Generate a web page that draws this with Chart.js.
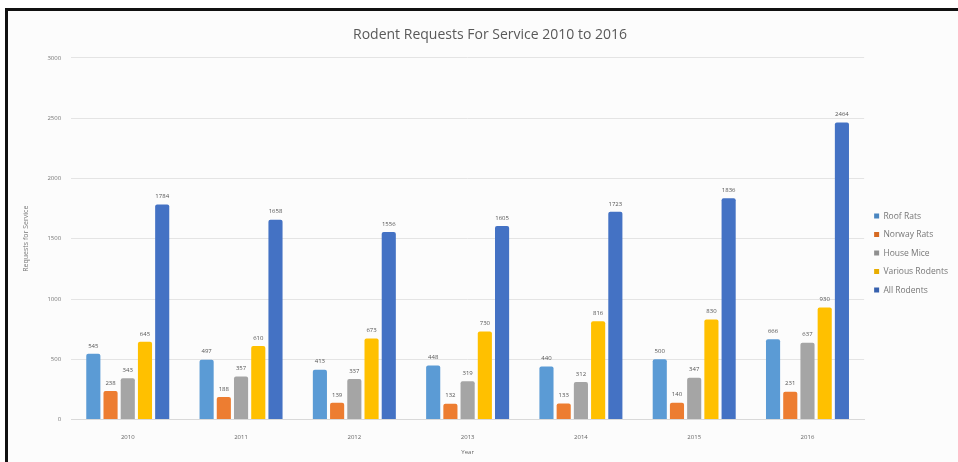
<!DOCTYPE html>
<html>
<head>
<meta charset="utf-8">
<script src="https://cdn.jsdelivr.net/npm/chart.js@4.4.1/dist/chart.umd.min.js"></script>
<style>
  html, body { margin: 0; padding: 0; background: #fff; }
  #frame {
    position: absolute; left: 5px; top: 8px;
    width: 953px; height: 454px;
    border-top: 3px solid #111; border-left: 3px solid #111;
    box-sizing: border-box; background: #fcfcfc;
  }
  #chartBox { position: absolute; left: 0; top: 0; width: 950px; height: 451px; }
</style>
</head>
<body>
<div id="frame">
  <div id="chartBox"><canvas id="rodentChart"></canvas></div>
</div>
<script>
// Requests per year, by rodent category
const years = ["2010", "2011", "2012", "2013", "2014", "2015", "2016"];
const roofRats = [545, 497, 413, 448, 440, 500, 666];
const norwayRats = [238, 188, 139, 132, 133, 140, 231];
const houseMice = [343, 357, 337, 319, 312, 347, 637];
const variousRodents = [645, 610, 673, 730, 816, 830, 930];
const allRodents = [1784, 1658, 1556, 1605, 1723, 1836, 2464];
const yTicks = [0, 500, 1000, 1500, 2000, 2500, 3000];

const FONT = "'Open Sans', sans-serif";

// cylinder-ish shading: darker edges, lighter middle
function shade(base, light, dark) {
  return (ctx) => {
    const el = ctx.element;
    if (!el || el.width == null || !isFinite(el.x)) return base;
    const c = ctx.chart.ctx;
    const x0 = el.x - el.width / 2, x1 = el.x + el.width / 2;
    const g = c.createLinearGradient(x0, 0, x1, 0);
    g.addColorStop(0, dark);
    g.addColorStop(0.45, light);
    g.addColorStop(1, dark);
    return g;
  };
}

const series = [
  { label: "Roof Rats", data: roofRats, color: "#5B9BD5", light: "#74b0e6", dark: "#4a86c0" },
  { label: "Norway Rats", data: norwayRats, color: "#ED7D31", light: "#f79450", dark: "#d66a22" },
  { label: "House Mice", data: houseMice, color: "#A5A5A5", light: "#bcbcbc", dark: "#8f8f8f" },
  { label: "Various Rodents", data: variousRodents, color: "#FFC000", light: "#ffd232", dark: "#e8ad00" },
  { label: "All Rodents", data: allRodents, color: "#4472C4", light: "#5a88d8", dark: "#3761ae" },
];

// value labels above each bar
const valueLabels = {
  id: "valueLabels",
  afterDatasetsDraw(chart) {
    const c = chart.ctx;
    c.save();
    c.font = "6px " + FONT;
    c.fillStyle = "#555";
    c.textAlign = "center";
    c.textBaseline = "bottom";
    chart.data.datasets.forEach((ds, i) => {
      chart.getDatasetMeta(i).data.forEach((bar, j) => {
        c.fillText(ds.data[j], bar.x, bar.y - 5);
      });
    });
    c.restore();
  },
};

new Chart(document.getElementById("rodentChart"), {
  type: "bar",
  data: {
    labels: years,
    datasets: series.map((s) => ({
      label: s.label,
      data: s.data,
      backgroundColor: shade(s.color, s.light, s.dark),
      borderWidth: 0,
      borderRadius: 2,
      categoryPercentage: 0.76,
      barPercentage: 0.82,
    })),
  },
  options: {
    responsive: true,
    maintainAspectRatio: false,
    animation: false,
    layout: { padding: { left: 14, right: 0, top: 10, bottom: 6 } },
    plugins: {
      title: {
        display: true,
        text: "Rodent Requests For Service 2010 to 2016",
        color: "#595959",
        font: { family: FONT, size: 14, weight: "normal" },
        padding: { top: 6, bottom: 14 },
      },
      legend: {
        position: "right",
        title: { display: true, text: " ", font: { size: 6 }, padding: 11 },
        labels: {
          boxWidth: 5,
          boxHeight: 5,
          padding: 10,
          color: "#777",
          font: { family: FONT, size: 8.5 },
        },
      },
      tooltip: { enabled: false },
    },
    scales: {
      x: {
        grid: { display: false },
        border: { color: "#d9d9d9" },
        ticks: { color: "#666", font: { family: FONT, size: 6 }, padding: 6 },
        title: { display: true, text: "Year", color: "#666", font: { family: FONT, size: 6 }, padding: { top: 2, bottom: 0 } },
      },
      y: {
        min: 0,
        max: 3000,
        afterBuildTicks: (axis) => { axis.ticks = yTicks.map((v) => ({ value: v })); },
        grid: { color: "#e4e4e4", drawTicks: false },
        border: { display: false },
        ticks: { color: "#777", font: { family: FONT, size: 6 }, padding: 10, callback: (v) => String(v) },
        title: { display: true, text: "Requests for Service", color: "#777", font: { family: FONT, size: 7 }, padding: { top: 0, bottom: 7 } },
      },
    },
  },
  plugins: [valueLabels],
});
</script>
</body>
</html>
